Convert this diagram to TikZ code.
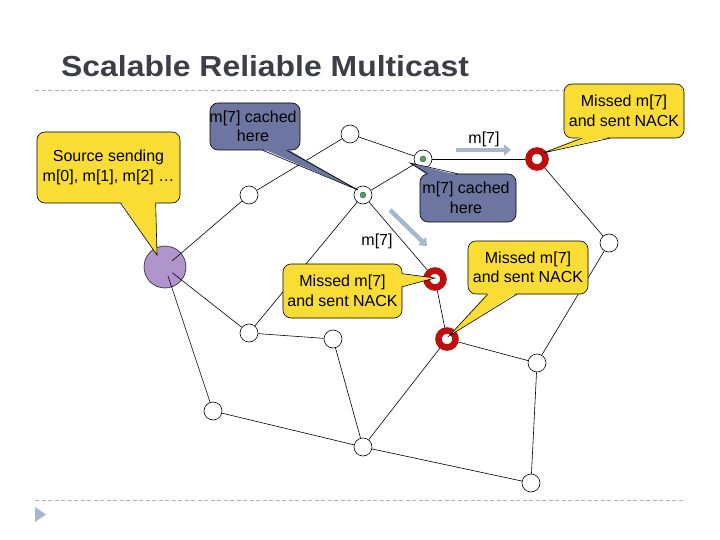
\documentclass[tikz,border=0pt]{standalone}
\usepackage{fontspec}
\setmainfont{Liberation Sans}
\usetikzlibrary{arrows.meta,calc}
\definecolor{yfill}{RGB}{250,221,52}
\definecolor{bfill}{RGB}{108,118,160}
\definecolor{srcfill}{RGB}{176,148,204}
\definecolor{ringred}{RGB}{190,14,14}
\definecolor{dotgreen}{RGB}{80,160,100}
\definecolor{arrowc}{RGB}{166,184,206}
\definecolor{dashc}{RGB}{172,180,192}
\definecolor{titlec}{RGB}{62,62,72}
\newcommand\callfont{\fontsize{16pt}{19.5pt}\selectfont}
\newcommand\ttlfont{\fontsize{29pt}{34pt}\selectfont\bfseries}
\begin{document}
\begin{tikzpicture}[x=1pt,y=-1pt,
  plain/.style={circle,draw=black,fill=white,minimum size=18pt,inner sep=0pt,line width=0.6pt},
  cached/.style={plain,path picture={\fill[dotgreen,draw=black!70,line width=0.4pt] (path picture bounding box.center) circle (3pt);}},
  ring/.style={circle,draw=ringred,line width=6.5pt,fill=white,minimum size=17pt,inner sep=0pt},
  src/.style={circle,draw=black!85,fill=srcfill,minimum size=42pt,inner sep=0pt,line width=0.6pt},
  link/.style={line width=0.6pt,draw=black},
  ybox/.style={draw=black,line width=0.6pt,fill=yfill,rounded corners=8pt,align=center,font=\callfont,inner sep=0pt},
  bbox/.style={ybox,fill=bfill},
  ptr/.style={draw=black,line width=0.6pt,line join=miter},
  marr/.style={draw=arrowc,line width=4.5pt,-{Triangle[length=7pt,width=11pt]}},
  lbl/.style={font=\callfont,inner sep=0pt},
  sep/.style={draw=dashc,line width=0.8pt,dash pattern=on 4pt off 2.5pt}
]
\useasboundingbox (0,0) rectangle (720,540);
\fill[white] (0,0) rectangle (720,540);

% title and separators
\node[anchor=base west,font=\ttlfont,text=titlec,inner sep=0pt] (title) at (61,77) {\scalebox{1.1}[1]{Scalable Reliable Multicast}};
\draw[sep] (35,90) -- (685,90);
\draw[sep] (35,500) -- (685,500);
\fill[arrowc] (35,507) -- (46,514.5) -- (35,522) -- cycle;

% network nodes
\node[src] (S) at (165,267) {};
\node[plain] (A) at (249,195) {};
\node[plain] (B) at (350,134) {};
\node[cached] (C) at (363,195) {};
\node[cached] (D) at (423,159) {};
\node[ring] (R1) at (537,159) {};
\node[plain] (E) at (609,243) {};
\node[ring] (R2) at (435,279) {};
\node[ring] (R3) at (447,339) {};
\node[plain] (F) at (537,363) {};
\node[plain] (G) at (249,333) {};
\node[plain] (H) at (333,339) {};
\node[plain] (I) at (213,411) {};
\node[plain] (J) at (363,447) {};
\node[plain] (K) at (531,483) {};

% links
\draw[link,shorten <=-12pt] (S) -- (A);
\draw[link,shorten <=-12pt] (S) -- (G);
\draw[link,shorten <=-12pt] (S) -- (I);
\draw[link] (A) -- (B);
\draw[link] (B) -- (D);
\draw[link] (D) -- (C);
\draw[link] (C) -- (G);
\draw[link] (C) -- (R2);
\draw[link] (D) -- (R1);
\draw[link] (R1) -- (E);
\draw[link] (E) -- (F);
\draw[link] (R2) -- (R3);
\draw[link] (R3) -- (F);
\draw[link] (R3) -- (J);
\draw[link] (G) -- (H);
\draw[link] (H) -- (J);
\draw[link] (I) -- (J);
\draw[link] (J) -- (K);
\draw[link] (F) -- (K);

% message arrows
\coordinate (m1s) at (456,150);
\coordinate (m1e) at (511,150);
\coordinate (m2s) at (390,210);
\coordinate (m2e) at (427,246);
\draw[marr] (m1s) -- (m1e);
\draw[marr] (m2s) -- (m2e);
\node[lbl] (m1l) at (484,139) {m[7]};
\node[lbl] (m2l) at (377,241) {m[7]};

% callout: source
\node[ybox,minimum width=143pt,minimum height=71pt] (srcbox) at (108.5,167.5) {};
\fill[yfill] ($(srcbox.south west)+(84,-1.5)$) -- ($(S.center)+(-8,-12)$) -- ($(srcbox.south west)+(119,-1.5)$) -- cycle;
\draw[ptr] ($(srcbox.south west)+(84,0)$) -- ($(S.center)+(-8,-12)$) -- ($(srcbox.south west)+(119,0)$);
\node[lbl,align=center] (srct) at (srcbox.center) {Source sending\\m[0], m[1], m[2] …};

% callout: cached 1
\node[bbox,minimum width=90pt,minimum height=47pt] (cbox1) at (255,126.5) {};
\fill[bfill] ($(cbox1.south west)+(53,-1.5)$) -- ($(C.center)+(-5,-5)$) -- ($(cbox1.south west)+(77,-1.5)$) -- cycle;
\draw[ptr] ($(cbox1.south west)+(53,0)$) -- ($(C.center)+(-5,-5)$) -- ($(cbox1.south west)+(77,0)$);
\node[lbl,align=center] (ct1) at (253,126.5) {m[7] cached\\here};

% callout: cached 2
\node[bbox,minimum width=96pt,minimum height=48pt] (cbox2) at (468,198) {};
\fill[bfill] ($(cbox2.north west)+(8,1.5)$) -- ($(D.center)+(-13,4)$) -- ($(cbox2.north west)+(38,1.5)$) -- cycle;
\draw[ptr] ($(cbox2.north west)+(8,0)$) -- ($(D.center)+(-13,4)$) -- ($(cbox2.north west)+(38,0)$);
\node[lbl,align=center] (ct2) at (466,198) {m[7] cached\\here};

% callout: missed 1
\node[ybox,minimum width=120pt,minimum height=54pt] (mbox1) at (624,111) {};
\fill[yfill] ($(mbox1.south west)+(18,-1.5)$) -- ($(R1.center)+(6,-6)$) -- ($(mbox1.south west)+(46,-1.5)$) -- cycle;
\draw[ptr] ($(mbox1.south west)+(18,0)$) -- ($(R1.center)+(6,-6)$) -- ($(mbox1.south west)+(46,0)$);
\node[lbl,align=center] (mt1) at (mbox1.center) {Missed m[7]\\and sent NACK};

% callout: missed 2
\node[ybox,minimum width=119pt,minimum height=54pt] (mbox2) at (342.5,291) {};
\fill[yfill] ($(mbox2.north east)+(-1.5,10)$) -- ($(R2.center)+(0,-1)$) -- ($(mbox2.north east)+(-1.5,23)$) -- cycle;
\draw[ptr] ($(mbox2.north east)+(0,10)$) -- ($(R2.center)+(0,-1)$) -- ($(mbox2.north east)+(0,23)$);
\node[lbl,align=center] (mt2) at (mbox2.center) {Missed m[7]\\and sent NACK};

% callout: missed 3
\node[ybox,minimum width=120pt,minimum height=53pt] (mbox3) at (528,267.5) {};
\fill[yfill] ($(mbox3.south west)+(20,-1.5)$) -- ($(R3.center)+(2,-3)$) -- ($(mbox3.south west)+(49,-1.5)$) -- cycle;
\draw[ptr] ($(mbox3.south west)+(20,0)$) -- ($(R3.center)+(2,-3)$) -- ($(mbox3.south west)+(49,0)$);
\node[lbl,align=center] (mt3) at (mbox3.center) {Missed m[7]\\and sent NACK};
\end{tikzpicture}
\end{document}
